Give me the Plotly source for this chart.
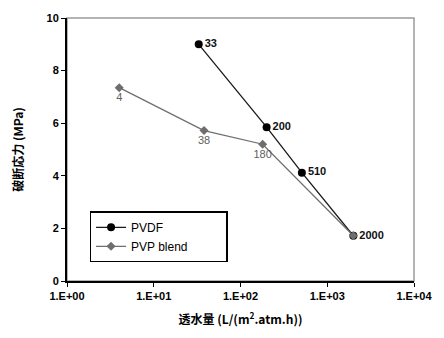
import plotly.graph_objects as go

pvdf_x = [33, 200, 510, 2000]
pvdf_y = [9.0, 5.85, 4.12, 1.72]
pvdf_lbl = ["33", "200", "510", "2000"]

pvp_x = [4, 38, 180, 2000]
pvp_y = [7.35, 5.72, 5.2, 1.72]
pvp_lbl = ["4", "38", "180"]

xticks = [1, 10, 100, 1000, 10000]
xtick_text = ["1.E+00", "1.E+01", "1.E+02", "1.E+03", "1.E+04"]
yticks = [0, 2, 4, 6, 8, 10]

series_names = ["PVDF", "PVP blend"]

narrow = "Liberation Sans Narrow, Arial Narrow, Liberation Sans, Arial"
pad = "\u00a0" * 10

fig = go.Figure()
fig.add_trace(go.Scatter(
    x=pvdf_x, y=pvdf_y, name=series_names[0] + pad, mode="lines+markers+text",
    line=dict(color="#1a1a1a", width=1.3),
    marker=dict(symbol="circle", size=8, color="#000000"),
    text=pvdf_lbl, textposition="middle right",
    textfont=dict(family=narrow, size=11, color="#111111", weight="bold"),
))
fig.add_trace(go.Scatter(
    x=pvp_x, y=pvp_y, name=series_names[1] + pad, mode="lines+markers+text",
    line=dict(color="#6e6e6e", width=1.3),
    marker=dict(symbol="diamond", size=7, color="#6e6e6e"),
    text=pvp_lbl, textposition="bottom center",
    textfont=dict(family=narrow, size=11, color="#606060"),
))

fig.add_shape(type="rect", xref="paper", yref="paper", x0=0, y0=0, x1=1, y1=1,
              line=dict(color="#9a9a9a", width=1.5), layer="below")

fig.update_layout(
    width=444, height=338,
    margin=dict(l=67, r=26, t=18, b=57),
    paper_bgcolor="white", plot_bgcolor="white",
    font=dict(family="Liberation Sans, Arial", color="#000000"),
    showlegend=True,
    legend=dict(x=0.065, y=0.265, xanchor="left", yanchor="top",
                bordercolor="#000000", borderwidth=1.5, bgcolor="white",
                font=dict(family="Liberation Sans, Arial", size=12),
                itemwidth=30, tracegroupgap=0),
    xaxis=dict(type="log", range=[0, 4], tickvals=xticks, ticktext=xtick_text,
               showgrid=False, zeroline=False, showline=True, linecolor="#000000",
               linewidth=2, ticks="outside", ticklen=4, tickcolor="#000000",
               tickfont=dict(family=narrow, size=11, weight="bold"),
               title=dict(text="透水量 (L/(m<sup>2</sup>.atm.h))", standoff=14,
                          font=dict(family="Noto Sans CJK JP, Liberation Sans", size=12, weight="bold"))),
    yaxis=dict(range=[0, 10], tickvals=yticks, showgrid=False, zeroline=False,
               showline=True, linecolor="#000000", linewidth=2, ticks="outside",
               ticklen=4, tickcolor="#000000",
               tickfont=dict(family=narrow, size=11, weight="bold"),
               title=dict(text="破断応力 (MPa)", standoff=20,
                          font=dict(family="Noto Sans CJK JP, Liberation Sans", size=12, weight="bold"))),
)

fig.write_html("out.html")
